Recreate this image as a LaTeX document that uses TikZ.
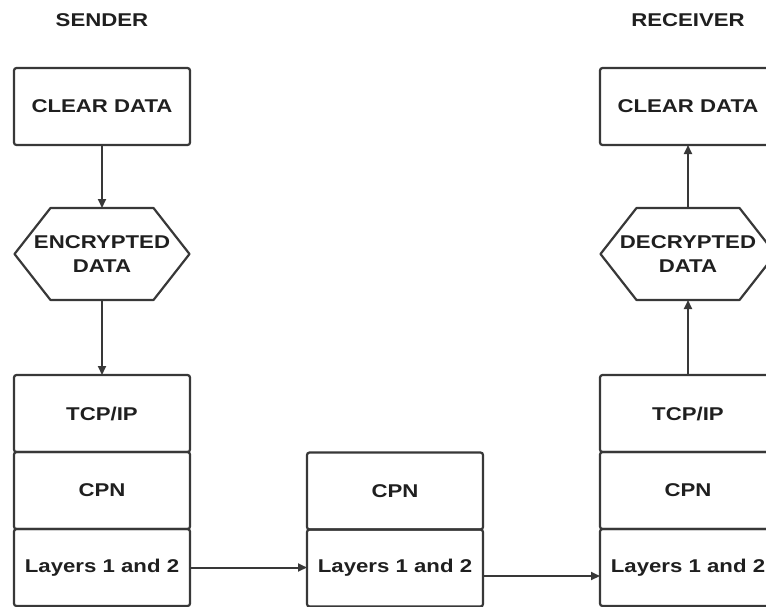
\documentclass[tikz,border=0pt]{standalone}
\usepackage{fontspec}
\setmainfont{Liberation Sans}[FakeStretch=1.2]
\usetikzlibrary{arrows.meta,positioning,calc}
\definecolor{edgegray}{HTML}{383838}

% contour hexagonal autour d'un noeud
\newcommand{\hexframe}[1]{%
    \draw[hexline] (#1.west) -- ([xshift=36pt]#1.north west) -- ([xshift=-36pt]#1.north east)
        -- (#1.east) -- ([xshift=-36pt]#1.south east) -- ([xshift=36pt]#1.south west) -- cycle;}

\begin{document}
\begin{tikzpicture}[x=1pt, y=-1pt,
    every node/.style={font=\fontsize{18.5}{24}\selectfont\bfseries, text=black!88},
    box/.style={draw=edgegray, line width=2.2pt, rounded corners=2.5pt,
        minimum width=176pt, minimum height=77pt, outer sep=0pt},
    hexa/.style={minimum width=175pt, minimum height=92pt,
        align=center, inner sep=0pt, outer sep=0pt},
    hexline/.style={draw=edgegray, line width=2.2pt, line join=round},
    flow/.style={draw=edgegray, line width=2pt, -{Triangle[length=9pt,width=8pt]}}
]
    \clip (0,0) rectangle (766,606);

    % titres
    \node (sender) at (102,20) {SENDER};
    \node (receiver) at (688,20) {RECEIVER};

    % emetteur
    \node[box] (sclear) at (102,106.5) {CLEAR DATA};
    \node[hexa] (senc) at (102,254) {ENCRYPTED\\DATA};
    \hexframe{senc}
    \node[box] (stcp) at (102,413.5) {TCP/IP};
    \node[box, below=0pt of stcp] (scpn) {CPN};
    \node[box, below=0pt of scpn] (slay) {Layers 1 and 2};

    % noeud intermediaire
    \node[box] (mcpn) at (395,491) {CPN};
    \node[box, below=0pt of mcpn] (mlay) {Layers 1 and 2};

    % recepteur
    \node[box] (rclear) at (688,106.5) {CLEAR DATA};
    \node[hexa] (rdec) at (688,254) {DECRYPTED\\DATA};
    \hexframe{rdec}
    \node[box] (rtcp) at (688,413.5) {TCP/IP};
    \node[box, below=0pt of rtcp] (rcpn) {CPN};
    \node[box, below=0pt of rcpn] (rlay) {Layers 1 and 2};

    % fleches
    \draw[flow] (sclear) -- (senc);
    \draw[flow] (senc) -- (stcp);
    \draw[flow] (rtcp) -- (rdec);
    \draw[flow] (rdec) -- (rclear);
    \draw[flow] (slay.east) -- (slay.east -| mlay.west);
    \draw[flow] ([yshift=-8pt]mlay.east) -- ([yshift=-8pt]mlay.east -| rlay.west);
\end{tikzpicture}
\end{document}
